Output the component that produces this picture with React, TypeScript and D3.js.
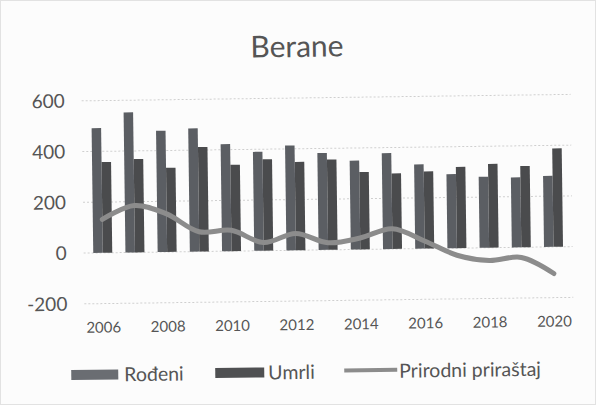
import React from "react";
import * as d3 from "d3";

const years = ["2006","2007","2008","2009","2010","2011","2012","2013","2014","2015","2016","2017","2018","2019","2020"];
const rodeni = [492, 552, 478, 486, 422, 390, 413, 382, 350, 378, 332, 292, 280, 276, 280];
const umrli = [358, 368, 332, 412, 340, 360, 348, 356, 305, 298, 304, 320, 330, 320, 388];
const prirastaj = [132, 185, 150, 78, 82, 32, 66, 28, 45, 80, 30, -28, -50, -40, -105];
const yTicks = [-200, 0, 200, 400, 600];
const xLabelYears = ["2006","2008","2010","2012","2014","2016","2018","2020"];

const W = 596, H = 405;
const FONT = "Lato, 'Open Sans', sans-serif";
const TXT = "#555";

export default function App() {
  const x = d3.scaleBand<string>().domain(years).range([86, 569]).paddingInner(0).paddingOuter(0);
  const y = d3.scaleLinear().domain([-200, 600]).range([301, 98]);
  const step = x.step();
  const barW = 9.5;
  const cx = (yr: string) => (x(yr) as number) + step / 2;
  const line = d3.line<number>()
    .x((_, i) => cx(years[i]))
    .y((d) => y(d))
    .curve(d3.curveCatmullRom.alpha(0.5));

  return (
    <svg width={W} height={H} style={{ position: "absolute", left: 0, top: 0, background: "#fcfcfc" }}>
      <rect x={0.5} y={0.5} width={W - 1} height={H - 1} fill="#fcfcfc" stroke="#e2e2e2" />
      <g transform={`rotate(-0.76, ${W / 2}, ${H / 2})`}>
        <text x={299} y={57} textAnchor="middle" fontFamily={FONT} fontSize={30} fill={TXT}>Berane</text>
        {yTicks.map((t) => (
          <g key={t}>
            <line x1={83} x2={572} y1={y(t)} y2={y(t)} stroke="#cfcfcf" strokeWidth={1} strokeDasharray="2,2" />
            <text x={66} y={y(t)} dy="0.35em" textAnchor="end" fontFamily={FONT} fontSize={19} fill={TXT}>{t}</text>
          </g>
        ))}
        {years.map((yr, i) => (
          <g key={yr}>
            <rect x={cx(yr) - barW} y={y(rodeni[i])} width={barW} height={y(0) - y(rodeni[i])} fill="#5b5e63" />
            <rect x={cx(yr)} y={y(umrli[i])} width={barW} height={y(0) - y(umrli[i])} fill="#4a4b4d" />
          </g>
        ))}
        <path d={line(prirastaj) || ""} fill="none" stroke="#8c8c8c" strokeWidth={5} strokeLinecap="round" />
        {xLabelYears.map((yr) => (
          <text key={yr} x={cx(yr)} y={330} textAnchor="middle" fontFamily={FONT} fontSize={15} fill={TXT}>{yr}</text>
        ))}
        <g fontFamily={FONT} fontSize={19.5} fill={TXT}>
          <rect x={69} y={367} width={47} height={10} fill="#6a6d72" />
          <text x={122} y={379}>Rođeni</text>
          <rect x={213} y={367} width={49} height={10} fill="#4f5052" />
          <text x={266} y={379}>Umrli</text>
          <line x1={342} x2={395} y1={371} y2={371} stroke="#8c8c8c" strokeWidth={4} />
          <text x={397} y={379}>Prirodni priraštaj</text>
        </g>
      </g>
    </svg>
  );
}
